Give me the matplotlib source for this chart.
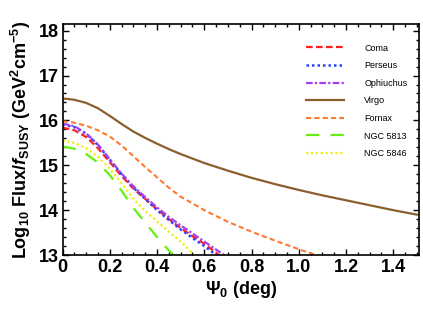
import matplotlib
matplotlib.use("Agg")
import matplotlib.pyplot as plt
from matplotlib.ticker import MultipleLocator

plt.rcParams['font.family'] = ['Liberation Sans', 'DejaVu Sans']
plt.rcParams['mathtext.fontset'] = 'custom'
plt.rcParams['mathtext.rm'] = 'Liberation Sans:bold'
plt.rcParams['mathtext.it'] = 'Liberation Sans:italic:bold'
plt.rcParams['mathtext.bf'] = 'Liberation Sans:bold'

# psi_0 (deg) grids and log10 flux values
psi_a = [0, 0.05, 0.1, 0.15, 0.2, 0.25, 0.3, 0.35, 0.4, 0.45, 0.5, 0.55, 0.6, 0.65, 0.7]
coma = [15.84, 15.78, 15.63, 15.38, 15.07, 14.76, 14.48, 14.25, 14.02, 13.8, 13.6, 13.42, 13.25, 13.05, 12.85]
perseus = [15.91, 15.85, 15.70, 15.45, 15.12, 14.80, 14.50, 14.25, 14.0, 13.78, 13.57, 13.38, 13.2, 13.0, 12.8]
ophiuchus = [15.93, 15.87, 15.71, 15.46, 15.13, 14.81, 14.53, 14.29, 14.06, 13.85, 13.66, 13.48, 13.3, 13.12, 12.95]
ngc5846 = [15.55, 15.50, 15.38, 15.19, 14.92, 14.60, 14.25, 13.98, 13.75, 13.52, 13.30, 13.04, 12.8, 12.6, 12.4]
ngc5813 = [15.42, 15.37, 15.25, 15.06, 14.78, 14.43, 14.05, 13.72, 13.40, 13.10, 12.85, 12.6, 12.4, 12.2, 12.0]

psi_b = [0, 0.05, 0.1, 0.15, 0.2, 0.25, 0.3, 0.35, 0.4, 0.45, 0.5, 0.6, 0.7, 0.8, 0.9,
         1.0, 1.1, 1.2, 1.3, 1.4, 1.5]
virgo = [16.49, 16.46, 16.39, 16.27, 16.10, 15.92, 15.75, 15.61, 15.48, 15.36, 15.25, 15.05,
         14.88, 14.72, 14.58, 14.45, 14.33, 14.22, 14.11, 14.0, 13.9]
fornax = [15.98, 15.95, 15.88, 15.78, 15.64, 15.44, 15.20, 14.96, 14.73, 14.50, 14.30, 14.0,
          13.74, 13.52, 13.32, 13.13, 12.95, 12.8, 12.65, 12.5, 12.35]

fig = plt.figure(figsize=(4.23, 3.11), dpi=100)
ax = fig.add_axes([0.148, 0.18, 0.843, 0.743])

ax.plot(psi_a, coma, color='#ff2020', lw=1.6, ls=(0, (3, 1.5)), label='Coma')
ax.plot(psi_a, perseus, color='#3040ff', lw=1.8, ls=(0, (1, 1.2)), label='Perseus')
ax.plot(psi_a, ophiuchus, color='#a040f0', lw=1.6, ls=(0, (3, 1, 1, 1)), label='Ophiuchus')
ax.plot(psi_b, virgo, color='#8b5e2e', lw=1.6, ls='-', label='Virgo')
ax.plot(psi_b, fornax, color='#ff7a30', lw=1.5, ls=(0, (2.5, 1.5)), label='Fornax')
ax.plot(psi_a, ngc5813, color='#66ee11', lw=1.6, ls=(0, (6, 5)), label='NGC 5813')
ax.plot(psi_a, ngc5846, color='#eeee10', lw=1.6, ls=(0, (1, 1.2)), label='NGC 5846')

ax.set_xlim(0, 1.51)
ax.set_ylim(13, 18.15)
ax.xaxis.set_major_locator(MultipleLocator(0.2))
ax.xaxis.set_minor_locator(MultipleLocator(0.05))
ax.yaxis.set_major_locator(MultipleLocator(1))
ax.yaxis.set_minor_locator(MultipleLocator(0.2))
ax.tick_params(which='both', direction='in', top=True, right=True, width=1)
ax.tick_params(which='major', length=4.5, labelsize=13, pad=3)
ax.tick_params(which='minor', length=2.5)
for lab in ax.get_xticklabels() + ax.get_yticklabels():
    lab.set_fontweight('bold')
ax.set_xticks([0, 0.2, 0.4, 0.6, 0.8, 1.0, 1.2, 1.4])
ax.set_xticklabels(['0', '0.2', '0.4', '0.6', '0.8', '1.0', '1.2', '1.4'], fontweight='bold')
for sp in ax.spines.values():
    sp.set_linewidth(1.2)

ax.set_xlabel(r'$\Psi_0$ (deg)', fontsize=13, fontweight='bold', labelpad=2)
ax.set_ylabel(r'Log$_{10}$ Flux/$f_{\rm SUSY}$ (GeV$^2$cm$^{-5}$)', fontsize=13,
              fontweight='bold', labelpad=4)

ax.legend(loc='upper right', bbox_to_anchor=(0.99, 0.95), frameon=False, fontsize=6.5,
          handlelength=4.3, handletextpad=2.2, labelspacing=0.95)

fig.savefig('out.png', dpi=100)
